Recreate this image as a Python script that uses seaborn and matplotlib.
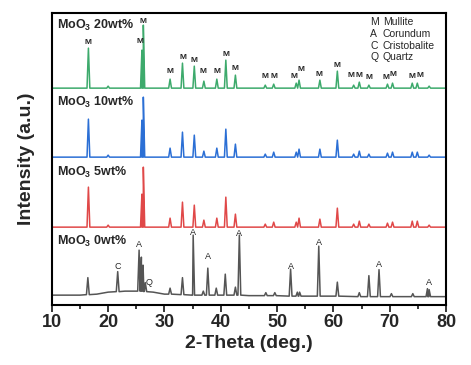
import numpy as np
import matplotlib
matplotlib.use("Agg")
import matplotlib.pyplot as plt
from matplotlib.ticker import MultipleLocator
import seaborn as sns

# peak positions (2-theta, deg) and heights (a.u.)
mul_pos = [16.5, 20.0, 26.0, 26.25, 31.0, 33.2, 35.3, 37.0, 39.3, 40.9, 42.6, 47.9, 49.4,
           53.4, 53.9, 57.6, 60.7, 63.6, 64.6, 66.3, 69.6, 70.5, 74.0, 74.9, 77.0]
g_hgt = [40, 2, 38, 63, 9, 25, 22, 7, 9, 28, 13, 3, 4, 5, 8, 8, 17, 3, 6, 3, 4, 5, 5, 5, 2]
b_hgt = [38, 2, 37, 60, 9, 25, 22, 6, 9, 28, 13, 3, 5, 5, 8, 8, 17, 3, 6, 3, 4, 5, 5, 5, 2]
r_hgt = [40, 2, 33, 60, 9, 25, 22, 7, 9, 30, 13, 3, 5, 5, 9, 8, 19, 3, 6, 3, 4, 5, 6, 6, 2]

gray_pos = [16.4, 21.7, 25.5, 25.9, 26.2, 26.6, 31.0, 33.2, 35.1, 36.9, 37.7, 39.2, 40.8,
            42.6, 43.3, 48.0, 49.6, 52.4, 53.6, 54.0, 57.4, 60.7, 64.6, 66.3, 68.1, 70.3,
            74.1, 76.7, 77.0]
gray_hgt = [17, 20, 41, 34, 26, 9, 6, 17, 60, 4, 27, 7, 21, 8, 60, 3, 3, 27, 4, 4, 50, 14,
            4, 21, 27, 3, 3, 8, 7]
gray_base = [10.5, 13.5, 14, 14, 14, 13.5, 11, 10.5, 10, 10, 10, 10, 10, 10, 10, 9.5, 9.5,
             9, 9, 9, 9, 9, 8.5, 8.5, 8.5, 8.5, 8.5, 8.5, 8.5]
gray_bg_x = [10, 15, 18, 20, 23, 28, 30, 35, 45, 55, 80]
gray_bg_y = [10, 10, 11, 13, 14, 13, 11, 10, 9.5, 9, 8.5]

offsets = {"20": 217, "10": 148, "5": 78}
colors = {"20": "#3DAA6C", "10": "#2B6FD5", "5": "#E04848", "0": "#555555"}

# phase marks: (2-theta, height)
m_marks = [(16.5, 263), (26.2, 284), (25.6, 264), (31.0, 234), (33.2, 248), (35.2, 245),
           (36.9, 234), (39.25, 234), (41.0, 251), (42.6, 237), (47.9, 229), (49.5, 229),
           (53.0, 229), (54.2, 236), (57.5, 231), (60.6, 240), (63.2, 230), (64.6, 230),
           (66.3, 228), (69.3, 228), (70.6, 231), (74.0, 229), (75.4, 230)]
g_marks = [("C", 21.7, 39), ("A", 25.5, 61), ("Q", 27.2, 23), ("A", 35.1, 73),
           ("A", 37.7, 49), ("A", 43.3, 72), ("A", 52.4, 39), ("A", 57.4, 63),
           ("A", 68.1, 41), ("A", 76.9, 23)]
sample_labels = [("20", 280), ("10", 203), ("5", 133), ("0", 64)]
phase_key = [("M", "Mullite", 283), ("A", "Corundum", 271), ("C", "Cristobalite", 259),
             ("Q", "Quartz", 248)]

W = 0.25


def trace(pos, hgt, base, extra_x=(), extra_y=()):
    pts = list(zip(extra_x, extra_y))
    for p, h, b in zip(pos, hgt, base):
        pts += [(p - W, b), (p, b + h), (p + W, b)]
    pts.sort(key=lambda t: t[0])
    xs = [10] + [t[0] for t in pts] + [80]
    ys = [pts[0][1]] + [t[1] for t in pts] + [pts[-1][1]]
    return xs, ys


sns.set_style("ticks")
plt.rcParams["font.family"] = ["Liberation Sans", "DejaVu Sans"]
plt.rcParams["mathtext.fontset"] = "custom"
plt.rcParams["mathtext.bf"] = "Liberation Sans:bold"
plt.rcParams["mathtext.rm"] = "Liberation Sans"

fig = plt.figure(figsize=(4.71, 3.65), dpi=100)
ax = fig.add_axes([0.110, 0.164, 0.837, 0.800])

for key, hgt in [("20", g_hgt), ("10", b_hgt), ("5", r_hgt)]:
    xs, ys = trace(mul_pos, hgt, [offsets[key]] * len(mul_pos))
    sns.lineplot(x=xs, y=ys, ax=ax, color=colors[key], lw=1.1, estimator=None, sort=False)

xs, ys = trace(gray_pos, gray_hgt, gray_base, gray_bg_x, gray_bg_y)
sns.lineplot(x=xs, y=ys, ax=ax, color=colors["0"], lw=1.1, estimator=None, sort=False)

for x, y in m_marks:
    ax.text(x, y, "M", ha="center", va="center", fontsize=6, fontweight="bold")
for s, x, y in g_marks:
    ax.text(x, y, s, ha="center", va="center", fontsize=6.5)

for key, y in sample_labels:
    ax.text(10.9, y, r"MoO$_\mathbf{3}$ " + key + "wt%", ha="left", va="center",
            fontsize=9, fontweight="bold")

for s, name, y in phase_key:
    ax.text(66.5, y, s, ha="left", va="center", fontsize=7.5)
    ax.text(68.8, y, name, ha="left", va="center", fontsize=7.5)

ax.set_xlim(10, 80)
ax.set_ylim(0, 292)
ax.set_yticks([])
ax.xaxis.set_major_locator(MultipleLocator(10))
ax.xaxis.set_minor_locator(MultipleLocator(5))
ax.tick_params(axis="x", which="major", direction="out", length=5, width=1.3,
               labelsize=13, pad=1.5)
ax.tick_params(axis="x", which="minor", direction="out", length=3, width=1.3)
for lab in ax.get_xticklabels():
    lab.set_fontweight("bold")
for sp in ax.spines.values():
    sp.set_linewidth(1.5)
    sp.set_color("black")

ax.set_xlabel("2-Theta (deg.)", fontsize=14, fontweight="bold", labelpad=3)
ax.set_ylabel("Intensity (a.u.)", fontsize=14, fontweight="bold", labelpad=12)

fig.savefig("out.png", dpi=100)
